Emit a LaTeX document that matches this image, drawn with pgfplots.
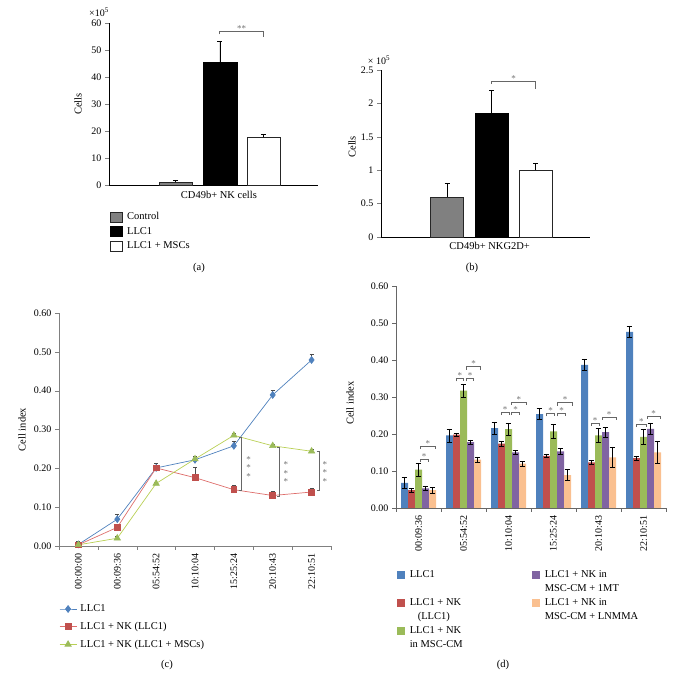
\documentclass[border=0pt]{standalone}
\usepackage{pgfplots}
\pgfplotsset{compat=1.18}
\usepackage{fontspec}
\setmainfont{Liberation Serif}
\usetikzlibrary{calc}

\definecolor{cBlue}{RGB}{79,129,189}
\definecolor{cRed}{RGB}{192,80,77}
\definecolor{cGreen}{RGB}{155,187,89}
\definecolor{cPurple}{RGB}{128,100,162}
\definecolor{cOrange}{RGB}{250,192,144}
\definecolor{barGray}{RGB}{128,128,128}
\definecolor{lRed}{RGB}{222,110,108}
\definecolor{lGreen}{RGB}{185,208,85}

\tikzset{
  brk/.style={draw=black!60, line width=0.5pt},
  dstar/.style={font=\fontsize{9}{9}\selectfont, text=black!55, anchor=south, inner sep=0.5pt, yshift=-1pt},
  cstar/.style={font=\fontsize{9}{9}\selectfont, text=black!55, anchor=center, inner sep=0pt, yshift=-1.5pt},
}

\pgfplotsset{
  every axis/.append style={font=\fontsize{10.5}{12}\selectfont},
  tick label style={font=\fontsize{10}{12}\selectfont},
  /pgf/number format/assume math mode=true,
  sqlegend/.style={legend image code/.code={\fill[##1,draw=none] (0pt,-4pt) rectangle (8pt,4pt);}},
  boxlegend/.style={legend image code/.code={\draw[##1] (0pt,-5pt) rectangle (12pt,5pt);}},
  dbar/.style={forget plot, bar width=7pt, draw=none,
    error bars/y dir=both, error bars/y explicit,
    error bars/error bar style={black, line width=0.6pt},
    error bars/error mark options={rotate=90, mark size=2.8pt, black, line width=0.6pt}},
}

\newcommand{\dbr}[4]{%
  \draw[brk] ([xshift=#2pt,yshift=-3pt]axis cs:#1,#4) -- ([xshift=#2pt]axis cs:#1,#4) -- ([xshift=#3pt]axis cs:#1,#4) -- ([xshift=#3pt,yshift=-3pt]axis cs:#1,#4);
  \node[dstar] at ($([xshift=#2pt]axis cs:#1,#4)!0.5!([xshift=#3pt]axis cs:#1,#4)$) {*};}
\newcommand{\lw}[1]{\makebox[121pt][l]{#1}}

\begin{document}
\begin{tikzpicture}
\path[use as bounding box] (0pt,0pt) rectangle (675pt,687pt);

% ---------------- (a)
\begin{axis}[
  at={(109pt,502pt)}, anchor=south west, scale only axis,
  width=209pt, height=162pt,
  xmin=0, xmax=209, ymin=0, ymax=60,
  axis x line*=bottom, axis y line*=left,
  xtick=\empty, ytick={0,10,20,30,40,50,60},
  tick align=outside, major tick length=4pt,
  ybar, clip=false,
  ylabel={Cells}, ylabel style={at={(axis description cs:-0.148,0.5)}, anchor=center},
  xlabel={CD49b+ NK cells}, xlabel style={at={(axis description cs:0.526,-0.062)}, anchor=center},
  legend style={draw=none, fill=none, at={(0.005,-0.16)}, anchor=north west, inner sep=0pt,
    row sep=3pt, nodes={inner sep=1.5pt}, font=\fontsize{10.5}{12}\selectfont,
    /tikz/every odd column/.append style={column sep=3pt}},
  legend cell align=left,
]
\addplot[forget plot, bar width=33pt, bar shift=0pt, fill=barGray, draw=black!85,
  error bars/.cd, y dir=plus, y explicit, error bar style={black}, error mark options={rotate=90, mark size=2.5pt, black}]
  coordinates {(66.5,1.0) +- (0,0.7)};
\addplot[forget plot, bar width=34pt, bar shift=0pt, fill=black, draw=black,
  error bars/.cd, y dir=plus, y explicit, error bar style={black}, error mark options={rotate=90, mark size=2.5pt, black}]
  coordinates {(110.7,45.3) +- (0,8.0)};
\addplot[forget plot, bar width=33pt, bar shift=0pt, fill=white, draw=black!85,
  error bars/.cd, y dir=plus, y explicit, error bar style={black}, error mark options={rotate=90, mark size=2.5pt, black}]
  coordinates {(154.3,17.6) +- (0,1.2)};
\addlegendimage{boxlegend, fill=barGray, draw=black!85}
\addlegendentry{Control}
\addlegendimage{boxlegend, fill=black, draw=black}
\addlegendentry{LLC1}
\addlegendimage{boxlegend, fill=white, draw=black!85}
\addlegendentry{LLC1 + MSCs}
\draw[brk] (axis cs:110.7,55.8) -- (axis cs:110.7,57.1) -- (axis cs:154.3,57.1) -- (axis cs:154.3,54.9);
\node[dstar] at (axis cs:132.5,57.1) {**};
\end{axis}
\node[font=\fontsize{10}{12}\selectfont] at (99pt,675pt) {×10\textsuperscript{5}};
\node[font=\fontsize{10.5}{12}\selectfont] at (199pt,419pt) {(a)};

% ---------------- (b)
\begin{axis}[
  at={(381pt,450pt)}, anchor=south west, scale only axis,
  width=209pt, height=167pt,
  xmin=0, xmax=209, ymin=0, ymax=2.5,
  axis x line*=bottom, axis y line*=left,
  xtick=\empty, ytick={0,0.5,1,1.5,2,2.5},
  tick align=outside, major tick length=4pt,
  ybar, clip=false,
  ylabel={Cells}, ylabel style={at={(axis description cs:-0.139,0.54)}, anchor=center},
  xlabel={CD49b+ NKG2D+}, xlabel style={at={(axis description cs:0.52,-0.054)}, anchor=center},
]
\addplot[bar width=33pt, bar shift=0pt, fill=barGray, draw=black!85,
  error bars/.cd, y dir=plus, y explicit, error bar style={black}, error mark options={rotate=90, mark size=2.5pt, black}]
  coordinates {(66,0.60) +- (0,0.20)};
\addplot[bar width=33pt, bar shift=0pt, fill=black, draw=black,
  error bars/.cd, y dir=plus, y explicit, error bar style={black}, error mark options={rotate=90, mark size=2.5pt, black}]
  coordinates {(110.5,1.86) +- (0,0.34)};
\addplot[bar width=33pt, bar shift=0pt, fill=white, draw=black!85,
  error bars/.cd, y dir=plus, y explicit, error bar style={black}, error mark options={rotate=90, mark size=2.5pt, black}]
  coordinates {(154.5,1.0) +- (0,0.10)};
\draw[brk] (axis cs:110.5,2.29) -- (axis cs:110.5,2.33) -- (axis cs:154.5,2.33) -- (axis cs:154.5,2.22);
\node[dstar] at (axis cs:132.5,2.33) {*};
\end{axis}
\node[font=\fontsize{10}{12}\selectfont] at (379pt,627pt) {× 10\textsuperscript{5}};
\node[font=\fontsize{10.5}{12}\selectfont] at (472pt,419pt) {(b)};

% ---------------- (c)
\begin{axis}[
  at={(59pt,141pt)}, anchor=south west, scale only axis,
  width=272pt, height=233pt,
  xmin=-0.5, xmax=6.5, ymin=0, ymax=0.6,
  axis x line*=bottom, axis y line*=left,
  axis line style={draw=black!50},
  tick align=outside, major tick length=4pt, minor tick length=4pt,
  xtick={0,1,2,3,4,5,6},
  xticklabels={00:00:00,00:09:36,05:54:52,10:10:04,15:25:24,20:10:43,22:10:51},
  major x tick style={draw=none},
  minor xtick={-0.5,0.5,1.5,2.5,3.5,4.5,5.5,6.5},
  minor x tick style={draw=black!50},
  y tick style={draw=black!50},
  ytick={0,0.1,0.2,0.3,0.4,0.5,0.6},
  y tick label style={/pgf/number format/fixed, /pgf/number format/fixed zerofill, /pgf/number format/precision=2},
  xticklabel style={rotate=90, anchor=east},
  clip=false,
  ylabel={Cell index}, ylabel style={at={(axis description cs:-0.136,0.5)}, anchor=center},
  legend style={draw=none, fill=none, at={(0,-0.245)}, anchor=north west, inner sep=0pt,
    row sep=6pt, nodes={inner sep=1.5pt}, font=\fontsize{10.5}{12}\selectfont,
    /tikz/every odd column/.append style={column sep=2pt}},
  legend cell align=left,
]
\addplot[cBlue, line width=0.7pt, mark=diamond*, mark size=3.4pt, mark options={fill=cBlue, draw=cBlue},
  error bars/.cd, y dir=plus, y explicit, error bar style={black!70, line width=0.5pt}, error mark options={rotate=90, mark size=2pt, black!70}]
  coordinates {(0,0.004)+-(0,0.008) (1,0.069)+-(0,0.012) (2,0.201)+-(0,0.012) (3,0.222)+-(0,0.009) (4,0.258)+-(0,0.012) (5,0.389)+-(0,0.013) (6,0.479)+-(0,0.014)};
\addlegendentry{LLC1}
\addplot[lRed, line width=0.7pt, mark=square*, mark size=2.9pt, mark options={fill=cRed, draw=cRed},
  error bars/.cd, y dir=plus, y explicit, error bar style={black!70, line width=0.5pt}, error mark options={rotate=90, mark size=2pt, black!70}]
  coordinates {(0,0.003)+-(0,0.004) (1,0.048)+-(0,0.008) (2,0.201)+-(0,0.008) (3,0.176)+-(0,0.027) (4,0.145)+-(0,0.012) (5,0.130)+-(0,0.010) (6,0.139)+-(0,0.010)};
\addlegendentry{LLC1 + NK (LLC1)}
\addplot[lGreen, line width=0.7pt, mark=triangle*, mark size=3.6pt, mark options={fill=cGreen, draw=cGreen},
  error bars/.cd, y dir=plus, y explicit, error bar style={black!70, line width=0.5pt}, error mark options={rotate=90, mark size=2pt, black!70}]
  coordinates {(0,0.003)+-(0,0.003) (1,0.020)+-(0,0.004) (2,0.161)+-(0,0.004) (3,0.224)+-(0,0.008) (4,0.285)+-(0,0.005) (5,0.258)+-(0,0.004) (6,0.244)+-(0,0.004)};
\addlegendentry{LLC1 + NK (LLC1 + MSCs)}
\draw[brk] ([xshift=-3pt]axis cs:4.2,0.281) -- (axis cs:4.2,0.281) -- (axis cs:4.2,0.1425) -- ([xshift=-3pt]axis cs:4.2,0.1425);
\node[cstar] at (axis cs:4.38,0.227) {*};
\node[cstar] at (axis cs:4.38,0.205) {*};
\node[cstar] at (axis cs:4.38,0.183) {*};
\draw[brk] ([xshift=-3pt]axis cs:5.18,0.254) -- (axis cs:5.18,0.254) -- (axis cs:5.18,0.129) -- ([xshift=-3pt]axis cs:5.18,0.129);
\node[cstar] at (axis cs:5.34,0.213) {*};
\node[cstar] at (axis cs:5.34,0.191) {*};
\node[cstar] at (axis cs:5.34,0.169) {*};
\draw[brk] ([xshift=-3pt]axis cs:6.21,0.245) -- (axis cs:6.21,0.245) -- (axis cs:6.21,0.1425) -- ([xshift=-3pt]axis cs:6.21,0.1425);
\node[cstar] at (axis cs:6.34,0.214) {*};
\node[cstar] at (axis cs:6.34,0.192) {*};
\node[cstar] at (axis cs:6.34,0.170) {*};
\end{axis}
\node[font=\fontsize{10.5}{12}\selectfont] at (167pt,22pt) {(c)};

% ---------------- (d)
\begin{axis}[
  at={(396pt,179pt)}, anchor=south west, scale only axis,
  width=270pt, height=222pt,
  xmin=-0.5, xmax=5.5, ymin=0, ymax=0.6,
  axis x line*=bottom, axis y line*=left,
  axis line style={draw=black!60},
  tick align=outside, major tick length=4pt, minor tick length=4pt,
  xtick={0,1,2,3,4,5},
  xticklabels={00:09:36,05:54:52,10:10:04,15:25:24,20:10:43,22:10:51},
  major x tick style={draw=none},
  minor xtick={-0.5,0.5,1.5,2.5,3.5,4.5,5.5},
  minor x tick style={draw=black!60},
  y tick style={draw=black!60},
  ytick={0,0.1,0.2,0.3,0.4,0.5,0.6},
  y tick label style={/pgf/number format/fixed, /pgf/number format/fixed zerofill, /pgf/number format/precision=2},
  xticklabel style={rotate=90, anchor=east},
  ybar, clip=false,
  ylabel={Cell index}, ylabel style={at={(axis description cs:-0.17,0.473)}, anchor=center},
  legend columns=2,
  legend style={draw=none, fill=none, at={(0.004,-0.27)}, anchor=north west, inner sep=0pt,
    row sep=0.2pt, nodes={inner sep=1.5pt, text height=8pt, text depth=2.7pt}, font=\fontsize{10.5}{12}\selectfont,
    /tikz/every odd column/.append style={column sep=3pt}},
  legend cell align=left,
]
\addplot[dbar, bar shift=-14pt, fill=cBlue]
  coordinates {(0,0.068)+-(0,0.016) (1,0.196)+-(0,0.018) (2,0.216)+-(0,0.016) (3,0.254)+-(0,0.015) (4,0.387)+-(0,0.016) (5,0.476)+-(0,0.016)};
\addplot[dbar, bar shift=-7pt, fill=cRed]
  coordinates {(0,0.048)+-(0,0.005) (1,0.198)+-(0,0.005) (2,0.174)+-(0,0.006) (3,0.141)+-(0,0.005) (4,0.123)+-(0,0.006) (5,0.135)+-(0,0.005)};
\addplot[dbar, bar shift=0pt, fill=cGreen]
  coordinates {(0,0.104)+-(0,0.018) (1,0.317)+-(0,0.017) (2,0.213)+-(0,0.017) (3,0.207)+-(0,0.019) (4,0.196)+-(0,0.019) (5,0.192)+-(0,0.020)};
\addplot[dbar, bar shift=7pt, fill=cPurple]
  coordinates {(0,0.053)+-(0,0.006) (1,0.178)+-(0,0.006) (2,0.150)+-(0,0.005) (3,0.153)+-(0,0.007) (4,0.205)+-(0,0.013) (5,0.214)+-(0,0.016)};
\addplot[dbar, bar shift=14pt, fill=cOrange]
  coordinates {(0,0.048)+-(0,0.007) (1,0.131)+-(0,0.007) (2,0.120)+-(0,0.007) (3,0.089)+-(0,0.015) (4,0.137)+-(0,0.028) (5,0.150)+-(0,0.029)};
% legend rows (two columns, one text line per row)
\addlegendimage{sqlegend, fill=cBlue}
\addlegendentry{\lw{LLC1}}
\addlegendimage{sqlegend, fill=cPurple}
\addlegendentry{LLC1 + NK in}
\addlegendimage{empty legend}
\addlegendentry{\lw{}}
\addlegendimage{empty legend}
\addlegendentry{MSC-CM + 1MT}
\addlegendimage{sqlegend, fill=cRed}
\addlegendentry{\lw{LLC1 + NK}}
\addlegendimage{sqlegend, fill=cOrange}
\addlegendentry{LLC1 + NK in}
\addlegendimage{empty legend}
\addlegendentry{\lw{\hspace*{8pt}(LLC1)}}
\addlegendimage{empty legend}
\addlegendentry{MSC-CM + LNMMA}
\addlegendimage{sqlegend, fill=cGreen}
\addlegendentry{\lw{LLC1 + NK}}
\addlegendimage{empty legend}
\addlegendentry{}
\addlegendimage{empty legend}
\addlegendentry{\lw{in MSC-CM}}
% significance brackets
\dbr{0}{1.5}{9.5}{0.132}
\dbr{0}{1.5}{17}{0.168}
\dbr{1}{-7.5}{0}{0.350}
\dbr{1}{3}{10}{0.350}
\dbr{1}{3}{17}{0.382}
\dbr{2}{-7.5}{0.5}{0.259}
\dbr{2}{3}{11}{0.259}
\dbr{2}{3}{17.5}{0.287}
\dbr{3}{-7}{1}{0.256}
\dbr{3}{4}{12}{0.256}
\dbr{3}{4}{19}{0.285}
\dbr{4}{-7.5}{0.5}{0.230}
\dbr{4}{3.5}{17.5}{0.246}
\dbr{5}{-7}{2.5}{0.227}
\dbr{5}{3.5}{16.5}{0.249}
\end{axis}
\node[font=\fontsize{10.5}{12}\selectfont] at (503pt,22pt) {(d)};
\end{tikzpicture}
\end{document}
